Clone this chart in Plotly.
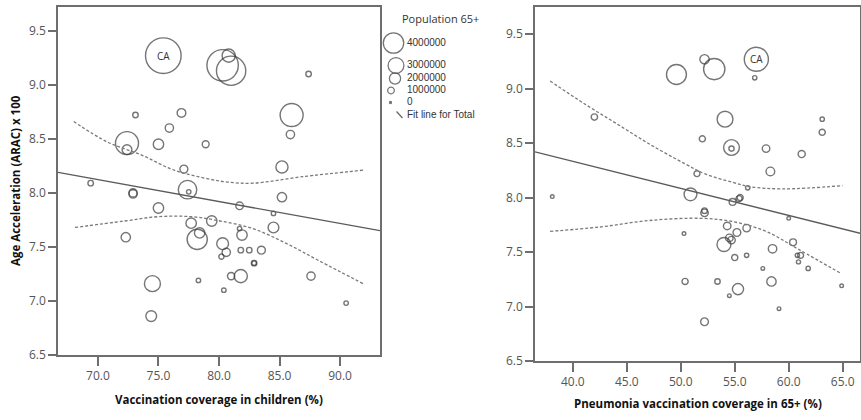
import plotly.graph_objects as go

# ---------------- data ----------------
arac = [9.27, 9.18, 9.13, 9.27, 9.10, 8.72, 8.74, 8.54, 8.46, 8.45, 8.45, 8.40, 8.72, 8.60,
        8.24, 8.22, 8.09, 8.01, 8.03, 7.96, 8.00, 7.99, 7.88, 7.86, 7.67, 7.74, 7.68, 7.72,
        7.63, 7.61, 7.57, 7.45, 7.47, 7.53, 7.59, 7.81, 7.47, 7.47, 7.41, 7.35, 7.35, 7.23,
        7.23, 7.23, 7.16, 7.10, 7.19, 6.98, 6.86]
child_cov = [75.4, 80.3, 81.0, 80.8, 87.4, 86.0, 76.9, 85.9, 72.4, 78.9, 75.0, 72.4, 73.1, 75.9,
             85.2, 77.1, 69.4, 77.5, 77.4, 85.2, 72.9, 72.9, 81.7, 75.0, 81.7, 79.4, 84.5, 77.7,
             78.4, 81.9, 78.2, 80.6, 81.8, 80.3, 72.3, 84.5, 82.5, 83.5, 80.2, 82.9, 82.9, 81.0,
             87.6, 81.8, 74.5, 80.4, 78.3, 90.5, 74.4]
pneu_cov = [57.0, 53.1, 49.6, 52.2, 56.85, 54.1, 42.0, 52.0, 54.7, 54.7, 57.9, 61.2, 63.1, 63.1,
            58.3, 51.5, 56.2, 38.1, 50.9, 54.8, 55.5, 55.4, 52.2, 52.2, 50.3, 54.3, 55.2, 56.1,
            54.5, 54.7, 54.0, 55.0, 56.1, 58.5, 60.4, 60.0, 60.8, 61.1, 60.9, 61.8, 57.6, 53.4,
            50.4, 58.4, 55.3, 54.5, 64.9, 59.1, 52.2]
pop65_millions = [4.8, 4.2, 3.9, 1.6, 0.5, 3.0, 0.95, 0.9, 3.0, 0.7, 1.2, 1.1, 0.5, 0.9,
                  1.45, 0.85, 0.5, 0.35, 2.35, 1.05, 0.9, 0.9, 0.8, 1.2, 0.35, 1.2, 1.25, 1.2,
                  1.2, 1.2, 2.6, 0.9, 0.5, 1.4, 1.05, 0.35, 0.5, 0.85, 0.45, 0.5, 0.35, 0.75,
                  0.9, 1.6, 2.0, 0.35, 0.35, 0.35, 1.25]
label_index = 0          # California
label_text = "CA"

fit_child_x = [66.7, 93.3]
fit_child_y = [8.19, 7.65]
band_child_up_x = [68.0, 70.8, 73.6, 76.3, 79.1, 80.7, 82.8, 86.9, 91.9]
band_child_up_y = [8.66, 8.47, 8.35, 8.21, 8.13, 8.10, 8.09, 8.15, 8.21]
band_child_lo_x = [68.1, 72.2, 75.0, 77.7, 80.1, 82.8, 85.6, 88.3, 91.9]
band_child_lo_y = [7.68, 7.74, 7.78, 7.78, 7.74, 7.67, 7.53, 7.37, 7.16]

fit_pneu_x = [36.5, 66.7]
fit_pneu_y = [8.42, 7.67]
band_pneu_up_x = [37.9, 41.1, 44.2, 47.3, 50.4, 52.2, 54.8, 56.4, 59.5, 65.0]
band_pneu_up_y = [9.07, 8.86, 8.67, 8.48, 8.31, 8.22, 8.14, 8.10, 8.08, 8.11]
band_pneu_lo_x = [37.9, 42.5, 47.1, 51.8, 54.8, 57.9, 61.0, 64.9]
band_pneu_lo_y = [7.69, 7.73, 7.79, 7.81, 7.78, 7.69, 7.52, 7.30]

legend_values = [4000000, 3000000, 2000000, 1000000, 0]
legend_title = "Population 65+"
fit_label = "Fit line for Total"

y_title = "Age Acceleration (ARAC) x 100"
x_title_left = "Vaccination coverage in children (%)"
x_title_right = "Pneumonia vaccination coverage in 65+ (%)"

# ---------------- styling ----------------
W, H = 861, 420
FONT = "Open Sans"
LEGFONT = "Liberation Sans"
MK = "#3a3a3a"
TICKC = "#555555"
AXC = "#6e6e6e"


def size_left(p):
    return 2 + 7.0 * p


def size_right(p):
    return 2 + 4.6 * p


fig = go.Figure()

# left panel
fig.add_trace(go.Scatter(x=child_cov, y=arac, mode="markers", xaxis="x", yaxis="y",
                         marker=dict(symbol="circle-open", size=[size_left(p) for p in pop65_millions],
                                     color=MK, line=dict(width=1.4, color=MK)),
                         hoverinfo="x+y", showlegend=False))
for bx, by in [(band_child_up_x, band_child_up_y), (band_child_lo_x, band_child_lo_y)]:
    fig.add_trace(go.Scatter(x=bx, y=by, mode="lines", xaxis="x", yaxis="y",
                             line=dict(color="#7a7a7a", width=1.3, dash="3px,2px", shape="spline"),
                             showlegend=False, hoverinfo="skip"))
fig.add_trace(go.Scatter(x=fit_child_x, y=fit_child_y, mode="lines", xaxis="x", yaxis="y",
                         line=dict(color="#5a5a5a", width=1.3), showlegend=False, hoverinfo="skip"))

# right panel
fig.add_trace(go.Scatter(x=pneu_cov, y=arac, mode="markers", xaxis="x2", yaxis="y2",
                         marker=dict(symbol="circle-open", size=[size_right(p) for p in pop65_millions],
                                     color=MK, line=dict(width=1.4, color=MK)),
                         hoverinfo="x+y", showlegend=False))
for bx, by in [(band_pneu_up_x, band_pneu_up_y), (band_pneu_lo_x, band_pneu_lo_y)]:
    fig.add_trace(go.Scatter(x=bx, y=by, mode="lines", xaxis="x2", yaxis="y2",
                             line=dict(color="#7a7a7a", width=1.3, dash="3px,2px", shape="spline"),
                             showlegend=False, hoverinfo="skip"))
fig.add_trace(go.Scatter(x=fit_pneu_x, y=fit_pneu_y, mode="lines", xaxis="x2", yaxis="y2",
                         line=dict(color="#5a5a5a", width=1.3), showlegend=False, hoverinfo="skip"))

# CA labels
for xa, ya, xs in [("x", "y", child_cov), ("x2", "y2", pneu_cov)]:
    fig.add_annotation(x=xs[label_index], y=arac[label_index], xref=xa, yref=ya, text=label_text,
                       showarrow=False, xanchor="center", yanchor="middle",
                       font=dict(family=FONT, size=10, color="#333"))

# custom size legend on a hidden axis (pixel-like coordinates)
leg_cx = [393.5, 396, 395, 391, 390.5]
leg_cy = [43, 65.5, 78.5, 90.5, 102.5]
leg_tx = 407
fig.add_trace(go.Scatter(
    x=leg_cx, y=leg_cy, mode="markers", xaxis="x3", yaxis="y3",
    marker=dict(symbol=["circle-open" if v > 0 else "circle" for v in legend_values],
                size=[size_right(v / 1e6) for v in legend_values],
                color=MK, line=dict(width=1.3, color=MK)),
    showlegend=False, hoverinfo="skip"))
fig.add_trace(go.Scatter(
    x=[leg_tx] * len(legend_values), y=leg_cy, mode="text", xaxis="x3", yaxis="y3",
    text=[str(v) for v in legend_values], textposition="middle right",
    textfont=dict(family=LEGFONT, size=10, color="#333"), showlegend=False, hoverinfo="skip"))
fig.add_trace(go.Scatter(x=[396.5, 402.5], y=[111.5, 118], mode="lines", xaxis="x3", yaxis="y3",
                         line=dict(color="#666", width=1.2), showlegend=False, hoverinfo="skip"))
fig.add_trace(go.Scatter(x=[leg_tx], y=[115], mode="text", xaxis="x3", yaxis="y3",
                         text=[fit_label], textposition="middle right",
                         textfont=dict(family=LEGFONT, size=10, color="#333"),
                         showlegend=False, hoverinfo="skip"))
fig.add_annotation(x=440, y=18, xref="x3", yref="y3", text=legend_title, showarrow=False,
                   xanchor="center", yanchor="middle",
                   font=dict(family=FONT, size=11, color="#333"))

axis_common = dict(showgrid=False, zeroline=False, showline=True, linecolor=AXC, linewidth=1.6,
                   mirror=True, ticks="outside", tickcolor=AXC, tickwidth=1.6,
                   tickfont=dict(family=FONT, size=12, color=TICKC), automargin=False,
                   tickformat=".1f")

fig.update_layout(
    width=W, height=H, margin=dict(l=0, r=0, t=0, b=0),
    paper_bgcolor="white", plot_bgcolor="white",
    xaxis=dict(domain=[58 / W, 380 / W], range=[66.7, 93.3], dtick=5, tick0=70, ticklen=9,
               anchor="y", **axis_common),
    yaxis=dict(domain=[(H - 355) / H, (H - 7) / H], range=[6.5, 9.72], dtick=0.5, ticklen=8,
               anchor="x", **axis_common),
    xaxis2=dict(domain=[535 / W, 860 / W], range=[36.5, 66.6], dtick=5, tick0=40, ticklen=9,
                anchor="y2", **axis_common),
    yaxis2=dict(domain=[(H - 361) / H, (H - 7) / H], range=[6.5, 9.75], dtick=0.5, ticklen=8,
                anchor="x2", **axis_common),
    xaxis3=dict(domain=[380 / W, 535 / W], range=[380, 535], visible=False, anchor="y3"),
    yaxis3=dict(domain=[0, 1], range=[420, 0], visible=False, anchor="x3"),
    font=dict(family=FONT),
)

title_font = dict(family=FONT, size=11.5, color="#111", weight="bold")
fig.add_annotation(x=15 / W, y=(H - 181) / H, xref="paper", yref="paper", text=y_title,
                   textangle=-90, showarrow=False, xanchor="center", yanchor="middle",
                   font=title_font)
fig.add_annotation(x=219 / W, y=(H - 399) / H, xref="paper", yref="paper", text=x_title_left,
                   showarrow=False, xanchor="center", yanchor="middle", font=title_font)
fig.add_annotation(x=697.5 / W, y=(H - 403) / H, xref="paper", yref="paper", text=x_title_right,
                   showarrow=False, xanchor="center", yanchor="middle", font=title_font)

fig.write_html("out.html", config={"displayModeBar": False},
               post_script="document.body.style.margin='0px';")
